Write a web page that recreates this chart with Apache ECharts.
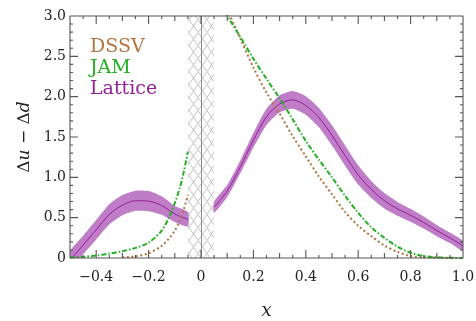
<!DOCTYPE html>
<html>
<head>
<meta charset="utf-8">
<script src="https://cdn.jsdelivr.net/npm/echarts@6/dist/echarts.min.js"></script>
<style>
html,body{margin:0;padding:0;background:#fff;}
#chart{width:476px;height:321px;}
</style>
</head>
<body>
<div id="chart"></div>
<script>
// ---------- data ----------
const xRange = [-0.5, 1.0];
const yRange = [0, 3.0];
const xTickLabels = [-0.4, -0.2, 0, 0.2, 0.4, 0.6, 0.8, 1.0];
const yTickLabels = [0, 0.5, 1.0, 1.5, 2.0, 2.5, 3.0];
const hatchRange = [-0.05, 0.05];
const dividerX = 0;

const dssvLeft = [[-0.3, 0.008], [-0.25, 0.02], [-0.2, 0.06], [-0.15, 0.15], [-0.12, 0.25], [-0.1, 0.34], [-0.08, 0.47], [-0.065, 0.61], [-0.05, 0.78]];
const dssvRight = [[0.1, 3.08], [0.15, 2.72], [0.2, 2.36], [0.25, 2.05], [0.3, 1.79], [0.35, 1.51], [0.4, 1.26], [0.45, 1.01], [0.5, 0.79], [0.55, 0.57], [0.6, 0.40], [0.65, 0.27], [0.7, 0.155], [0.75, 0.075], [0.8, 0.025], [0.85, 0.008], [0.9, 0.002], [1.0, 0]];

const jamLeft = [[-0.5, 0.008], [-0.45, 0.015], [-0.4, 0.03], [-0.35, 0.055], [-0.3, 0.085], [-0.25, 0.125], [-0.2, 0.19], [-0.15, 0.34], [-0.12, 0.52], [-0.1, 0.68], [-0.08, 0.88], [-0.065, 1.08], [-0.05, 1.32]];
const jamRight = [[0.09, 3.05], [0.15, 2.74], [0.2, 2.47], [0.25, 2.22], [0.3, 1.98], [0.35, 1.72], [0.4, 1.45], [0.45, 1.22], [0.5, 1.0], [0.55, 0.77], [0.6, 0.56], [0.65, 0.38], [0.7, 0.25], [0.75, 0.14], [0.8, 0.065], [0.85, 0.025], [0.9, 0.008], [1.0, 0]];

const latticeLeftX = [-0.5, -0.45, -0.4, -0.35, -0.3, -0.25, -0.2, -0.15, -0.1, -0.05];
const latticeLeftMid = [-0.03, 0.16, 0.35, 0.54, 0.655, 0.71, 0.705, 0.65, 0.545, 0.48];
const latticeLeftHalf = [0.11, 0.115, 0.12, 0.125, 0.125, 0.125, 0.125, 0.115, 0.1, 0.09];

const latticeRightX = [0.05, 0.1, 0.15, 0.2, 0.25, 0.3, 0.35, 0.4, 0.45, 0.5, 0.55, 0.6, 0.65, 0.7, 0.75, 0.8, 0.85, 0.9, 0.95, 1.0];
const latticeRightMid = [0.63, 0.83, 1.13, 1.46, 1.75, 1.91, 1.96, 1.89, 1.74, 1.52, 1.27, 1.03, 0.85, 0.71, 0.61, 0.53, 0.44, 0.34, 0.25, 0.15];
const latticeRightHalf = [0.07, 0.075, 0.08, 0.09, 0.1, 0.105, 0.11, 0.115, 0.12, 0.125, 0.125, 0.12, 0.105, 0.095, 0.085, 0.08, 0.075, 0.07, 0.065, 0.06];

const names = ['DSSV', 'JAM', 'Lattice'];
const colors = { DSSV: '#b3743e', JAM: '#22b022', Lattice: '#951c9a' };
const bandColor = '#bf7cc7';

// ---------- helpers ----------
const zip = (xs, ys) => xs.map((x, i) => [x, ys[i]]);
const pieces = [
  { x: latticeLeftX, mid: latticeLeftMid, half: latticeLeftHalf },
  { x: latticeRightX, mid: latticeRightMid, half: latticeRightHalf }
];

// axis tick positions: x every 0.05, y every 0.1 (lengths in px)
const xTickVals = [];
for (let k = -10; k <= 20; k++) xTickVals.push(k / 20);
const yTickVals = [];
for (let k = 0; k <= 30; k++) yTickVals.push(k / 10);
const xTickLen = v => (Math.round(v * 20) % 4 === 0 ? 8 : (Math.round(v * 20) % 2 === 0 ? 5 : 3));
const yTickLen = v => (Math.round(v * 10) % 5 === 0 ? 8 : 3);

// hatch pattern
const pat = document.createElement('canvas');
pat.width = 9; pat.height = 13;
(function () {
  const c = pat.getContext('2d');
  c.strokeStyle = '#c2c2c2';
  c.lineWidth = 1;
  c.beginPath();
  c.moveTo(0, 6.5); c.lineTo(4.5, 0); c.lineTo(9, 6.5); c.lineTo(4.5, 13); c.closePath();
  c.stroke();
})();

const FONT = 'DejaVu Serif';
const axisColor = '#555';
const fmtNum = v => {
  if (Math.abs(v) < 1e-9) return '0';
  const s = Math.abs(v).toFixed(1);
  return v < 0 ? '\u2212' + s : s;
};

const chart = echarts.init(document.getElementById('chart'), null, { renderer: 'canvas' });

const lineSeries = (name, data, style) => ({
  name, type: 'line', data, xAxisIndex: 0, yAxisIndex: 0,
  showSymbol: false, symbol: 'none', smooth: 0.3, clip: true, z: 5,
  lineStyle: Object.assign({ color: colors[name] }, style),
  itemStyle: { color: colors[name] },
  emphasis: { disabled: true }
});

const option = {
  animation: false,
  backgroundColor: '#fff',
  grid: { left: 70, right: 13, top: 16, bottom: 63, outerBoundsMode: 'none', containLabel: false },
  xAxis: {
    type: 'value', min: xRange[0], max: xRange[1], interval: 0.1,
    splitLine: { show: false }, axisLine: { show: false, onZero: false }, axisTick: { show: false },
    axisLabel: { customValues: xTickLabels, formatter: fmtNum, margin: 12, fontFamily: FONT, fontSize: 14, color: '#222' },
    name: 'x', nameLocation: 'middle', nameGap: 44,
    nameTextStyle: { fontFamily: FONT, fontStyle: 'italic', fontSize: 18, color: '#222' }
  },
  yAxis: {
    type: 'value', min: yRange[0], max: yRange[1], interval: 0.5,
    splitLine: { show: false }, axisLine: { show: false, onZero: false }, axisTick: { show: false },
    axisLabel: { customValues: yTickLabels, formatter: fmtNum, margin: 4, fontFamily: FONT, fontSize: 14, color: '#222' },
    name: '{a|\u0394}{b|u}{a| \u2212 \u0394}{b|d}', nameLocation: 'middle', nameGap: 33, nameRotate: 90,
    nameTextStyle: {
      rich: {
        a: { fontFamily: FONT, fontSize: 17, color: '#222' },
        b: { fontFamily: FONT, fontSize: 17, fontStyle: 'italic', color: '#222' }
      }
    }
  },
  legend: {
    orient: 'vertical', left: 80, top: 32,
    icon: 'none', itemWidth: 0, itemHeight: 21, itemGap: 0,
    selectedMode: false,
    data: names.map(n => ({ name: n, textStyle: { color: colors[n] } })),
    textStyle: { fontFamily: FONT, fontSize: 19, lineHeight: 21 }
  },
  series: [
    {
      name: 'hatch', type: 'line', data: [], z: 1, silent: true,
      markArea: {
        silent: true,
        itemStyle: { color: { image: pat, repeat: 'repeat' }, borderWidth: 0 },
        data: [[{ xAxis: hatchRange[0] }, { xAxis: hatchRange[1] }]]
      },
      markLine: {
        silent: true, symbol: ['none', 'none'], label: { show: false },
        lineStyle: { color: '#8a8a8a', width: 1, type: 'solid' },
        data: [{ xAxis: dividerX }]
      }
    },
    {
      name: 'Lattice', type: 'custom', z: 3, silent: true,
      data: [0, 1],
      renderItem: function (params, api) {
        const p = pieces[params.dataIndex];
        const upper = p.x.map((x, i) => api.coord([x, p.mid[i] + p.half[i]]));
        const lower = p.x.map((x, i) => api.coord([x, p.mid[i] - p.half[i]])).reverse();
        const cs = params.coordSys;
        return {
          type: 'group',
          clipPath: { type: 'rect', shape: { x: cs.x, y: cs.y, width: cs.width, height: cs.height } },
          children: [{
            type: 'polygon',
            shape: { points: upper.concat(lower), smooth: 0.2 },
            style: { fill: bandColor, stroke: null }
          }]
        };
      }
    },
    lineSeries('Lattice', zip(latticeLeftX, latticeLeftMid), { width: 1 }),
    lineSeries('Lattice', zip(latticeRightX, latticeRightMid), { width: 1 }),
    lineSeries('DSSV', dssvLeft, { width: 2, type: [2, 2.5], cap: 'butt' }),
    lineSeries('DSSV', dssvRight, { width: 2, type: [2, 2.5], cap: 'butt' }),
    lineSeries('JAM', jamLeft, { width: 2, type: [5, 2, 1.5, 2] }),
    lineSeries('JAM', jamRight, { width: 2, type: [5, 2, 1.5, 2] })
  ]
};
chart.setOption(option);

// ---------- frame + inside ticks, drawn as a line series through the axis scales ----------
(function () {
  const p0 = chart.convertToPixel({ gridIndex: 0 }, [xRange[0], yRange[0]]);
  const p1 = chart.convertToPixel({ gridIndex: 0 }, [xRange[1], yRange[1]]);
  const ux = (xRange[1] - xRange[0]) / (p1[0] - p0[0]);   // x units per px
  const uy = (yRange[1] - yRange[0]) / (p0[1] - p1[1]);   // y units per px
  const gap = [NaN, NaN];
  const d = [
    [xRange[0], yRange[0]], [xRange[1], yRange[0]], [xRange[1], yRange[1]],
    [xRange[0], yRange[1]], [xRange[0], yRange[0]], gap
  ];
  xTickVals.forEach(v => {
    const l = xTickLen(v) * uy;
    d.push([v, yRange[0]], [v, yRange[0] + l], gap);
    d.push([v, yRange[1]], [v, yRange[1] - l], gap);
  });
  yTickVals.forEach(v => {
    const l = yTickLen(v) * ux;
    d.push([xRange[0], v], [xRange[0] + l, v], gap);
    d.push([xRange[1], v], [xRange[1] - l, v], gap);
  });
  option.series.push({
    name: 'frame', type: 'line', data: d, z: 10, silent: true, clip: false,
    showSymbol: false, symbol: 'none', smooth: false, connectNulls: false,
    lineStyle: { color: axisColor, width: 1.1 },
    emphasis: { disabled: true }
  });
  chart.setOption(option);
})();
</script>
</body>
</html>
